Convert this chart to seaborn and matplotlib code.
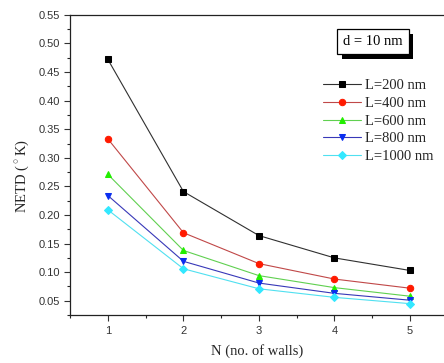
import pandas as pd
import matplotlib
matplotlib.use("Agg")
import matplotlib.pyplot as plt
import matplotlib.patheffects as pe
from matplotlib.ticker import MultipleLocator, FormatStrFormatter
import seaborn as sns

# Data
walls = [1, 2, 3, 4, 5]
netd_200 = [0.472, 0.241, 0.164, 0.125, 0.103]
netd_400 = [0.333, 0.169, 0.115, 0.088, 0.072]
netd_600 = [0.271, 0.138, 0.094, 0.073, 0.058]
netd_800 = [0.234, 0.119, 0.081, 0.063, 0.051]
netd_1000 = [0.209, 0.106, 0.071, 0.056, 0.045]
series_labels = ["L=200 nm", "L=400 nm", "L=600 nm", "L=800 nm", "L=1000 nm"]

# Long format table for seaborn
rows = []
for label, vals in zip(series_labels, [netd_200, netd_400, netd_600, netd_800, netd_1000]):
    for n, v in zip(walls, vals):
        rows.append({"N": n, "NETD": v, "L": label})
df = pd.DataFrame(rows)

sns.set_style("ticks")
plt.rcParams["font.family"] = ["Liberation Sans", "DejaVu Sans"]
plt.rcParams["mathtext.fontset"] = "custom"
plt.rcParams["mathtext.rm"] = "Liberation Serif"

colors = ["#000000", "#ff1a00", "#22ee00", "#0a2ef0", "#33e8ff"]
line_colors = ["#303030", "#c04848", "#60d050", "#3838b8", "#50e0f0"]
markers = ["s", "o", "^", "v", "D"]

fig = plt.figure(figsize=(4.44, 3.63), dpi=100)
ax = fig.add_axes([0.158, 0.132, 0.842, 0.827])

for label, lc, mc, mk in zip(series_labels, line_colors, colors, markers):
    sub = df[df["L"] == label]
    sns.lineplot(data=sub, x="N", y="NETD", ax=ax, color=lc, linewidth=0.8,
                 marker=mk, markersize=4.6 if mk != "D" else 4.0,
                 markerfacecolor=mc, markeredgecolor=mc, label=label)

ax.set_xlim(0.5, 5.45)
ax.set_ylim(0.025, 0.55)
ax.xaxis.set_major_locator(MultipleLocator(1))
ax.xaxis.set_minor_locator(MultipleLocator(0.5))
ax.yaxis.set_major_locator(MultipleLocator(0.05))
ax.yaxis.set_minor_locator(MultipleLocator(0.025))
ax.yaxis.set_major_formatter(FormatStrFormatter("%.2f"))
ax.tick_params(which="major", direction="out", length=4, width=0.8, labelsize=8, colors="#333333")
ax.tick_params(which="minor", direction="out", length=2.5, width=0.8)
ax.spines["right"].set_visible(False)
for s in ["left", "bottom", "top"]:
    ax.spines[s].set_linewidth(0.9)
    ax.spines[s].set_color("#222222")

ax.set_xlabel("N (no. of walls)", family="Liberation Serif", fontsize=10.5, labelpad=6)
ax.set_ylabel(r"NETD ($^\circ$K)", family="Liberation Serif", fontsize=10.5)
ax.yaxis.set_label_coords(-0.105, 0.465)

leg = ax.legend(loc="upper left", bbox_to_anchor=(0.66, 0.805), frameon=False,
                prop={"family": "Liberation Serif", "size": 10.5},
                handlelength=2.6, labelspacing=0.3, handletextpad=0.3, borderaxespad=0)

# "d = 10 nm" box with drop shadow
t = ax.text(0.73, 0.9, "d = 10 nm", transform=ax.transAxes, family="Liberation Serif",
            fontsize=10.5, color="black", zorder=5,
            bbox=dict(boxstyle="square,pad=0.4", facecolor="white", edgecolor="black", linewidth=0.9))
t.get_bbox_patch().set_path_effects([
    pe.SimplePatchShadow(offset=(3.5, -3.5), shadow_rgbFace="black", alpha=1.0),
    pe.Normal()])

fig.savefig("out.png", dpi=100)
